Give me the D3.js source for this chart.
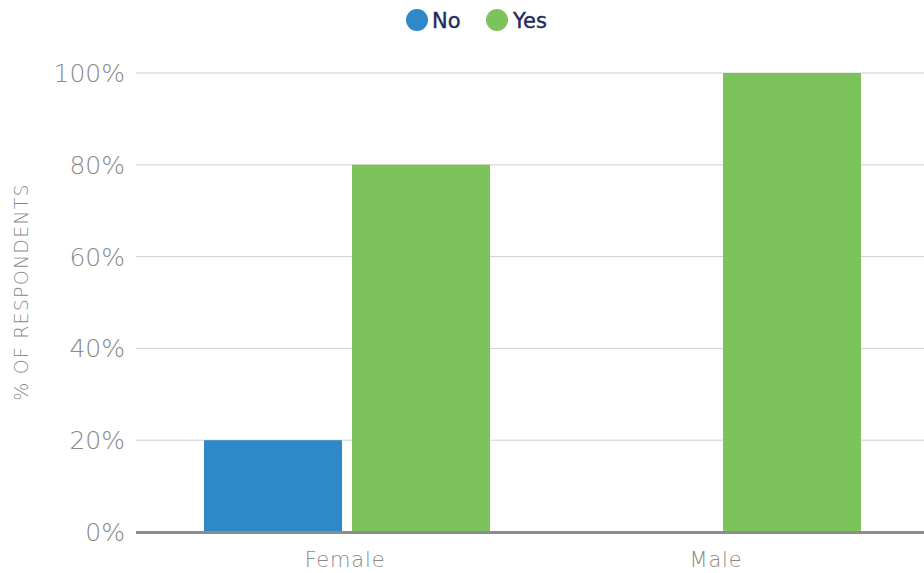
<!DOCTYPE html>
<html>
<head>
<meta charset="utf-8">
<script src="https://cdn.jsdelivr.net/npm/d3@7"></script>
<style>
  html, body { margin: 0; padding: 0; background: #fff; }
  svg { display: block; }
</style>
</head>
<body>
<svg id="chart" width="924" height="573"></svg>
<script>
// Survey answers by gender, share of respondents (%)
const categories = ["Female", "Male"];
const seriesNames = ["No", "Yes"];
const noValues = [20, 0];
const yesValues = [80, 100];
const yTicks = [0, 20, 40, 60, 80, 100];
const colors = { No: "#2f88c8", Yes: "#7dc35b" };

const rows = categories.map((c, i) => ({ category: c, No: noValues[i], Yes: yesValues[i] }));

const svg = d3.select("#chart");
const plotLeft = 136, plotRight = 924;
const yTop = 73, yBottom = 532;
const lightFont = "'DejaVu Sans', sans-serif";

const y = d3.scaleLinear().domain([0, 100]).range([yBottom, yTop]);
const x0 = d3.scaleBand().domain(categories).range([161.5, 903.5]).padding(0);
const x1 = d3.scaleBand().domain(seriesNames).range([42.5, 328.5]).paddingInner(10 / 148).paddingOuter(0);

// gridlines
svg.append("g")
  .selectAll("line")
  .data(yTicks.filter(t => t > 0))
  .join("line")
  .attr("x1", plotLeft).attr("x2", plotRight)
  .attr("y1", d => y(d)).attr("y2", d => y(d))
  .attr("stroke", "#d0d0d0").attr("stroke-width", 1);

// y tick labels
svg.append("g")
  .selectAll("text")
  .data(yTicks)
  .join("text")
  .attr("x", 125)
  .attr("y", d => y(d))
  .attr("dy", "0.36em")
  .attr("text-anchor", "end")
  .attr("font-family", lightFont)
  .attr("font-weight", 200)
  .attr("font-size", 25)
  .attr("fill", "#8a8a8a")
  .text(d => d + "%");

// bars
const groups = svg.append("g")
  .selectAll("g")
  .data(rows)
  .join("g")
  .attr("transform", d => `translate(${x0(d.category)},0)`);

groups.selectAll("rect")
  .data(d => seriesNames.map(k => ({ key: k, value: d[k] })))
  .join("rect")
  .attr("x", d => x1(d.key))
  .attr("width", x1.bandwidth())
  .attr("y", d => y(d.value))
  .attr("height", d => yBottom - y(d.value))
  .attr("fill", d => colors[d.key]);

// baseline
svg.append("line")
  .attr("x1", plotLeft).attr("x2", plotRight)
  .attr("y1", yBottom + 0.5).attr("y2", yBottom + 0.5)
  .attr("stroke", "#8c8c8c").attr("stroke-width", 3);

// category labels
svg.append("g")
  .selectAll("text")
  .data(categories)
  .join("text")
  .attr("x", d => x0(d) + x0.bandwidth() / 2 - 2)
  .attr("y", 567)
  .attr("text-anchor", "middle")
  .attr("font-family", lightFont)
  .attr("font-weight", 200)
  .attr("font-size", 21)
  .attr("letter-spacing", 0.8)
  .attr("fill", "#8a8a8a")
  .text(d => d);

// y axis title
svg.append("text")
  .attr("transform", `translate(28,292) rotate(-90)`)
  .attr("text-anchor", "middle")
  .attr("font-family", lightFont)
  .attr("font-weight", 200)
  .attr("font-size", 19)
  .attr("letter-spacing", 1.2)
  .attr("fill", "#8a8a8a")
  .text("% OF RESPONDENTS");

// legend
const legendItems = [
  { key: "No", cx: 417, tx: 432 },
  { key: "Yes", cx: 497, tx: 513 }
];
const legend = svg.append("g");
legend.selectAll("circle")
  .data(legendItems)
  .join("circle")
  .attr("cx", d => d.cx).attr("cy", 20).attr("r", 11)
  .attr("fill", d => colors[d.key]);
legend.selectAll("text")
  .data(legendItems)
  .join("text")
  .attr("x", d => d.tx).attr("y", 20)
  .attr("dy", "0.36em")
  .attr("font-family", lightFont)
  .attr("font-weight", 400)
  .attr("font-size", 21)
  .attr("fill", "#1f2a5e")
  .attr("stroke", "#1f2a5e")
  .attr("stroke-width", 0.4)
  .text(d => d.key);
</script>
</body>
</html>
